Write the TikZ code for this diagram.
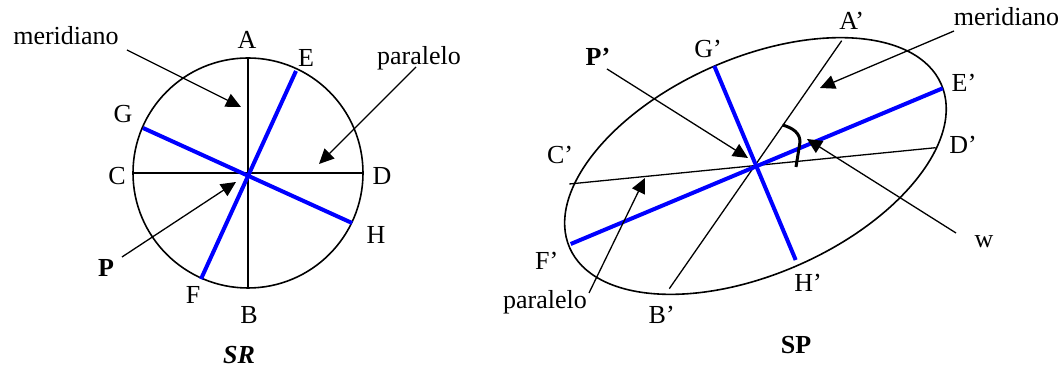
\documentclass[tikz,border=0pt]{standalone}
\usepackage{fontspec}
\setmainfont{Liberation Serif}
\usetikzlibrary{arrows.meta,positioning,calc}

\begin{document}
\begin{tikzpicture}[
    x=0.5pt, y=-0.5pt,
    lbl/.style={inner sep=0pt, anchor=base, font=\fontsize{13pt}{15pt}\selectfont},
    arrow/.style={-{Triangle[length=7.5pt, width=7pt]}, line width=0.65pt},
    axis/.style={line width=0.65pt},
    blueaxis/.style={draw=blue, line width=2pt},
    ring/.style={line width=0.8pt}
]
\useasboundingbox (0,0) rectangle (1062,367);

% Left sphere (SR)
\coordinate (O) at (248,173);
\coordinate (A) at (248,58);
\coordinate (B) at (248,288);
\coordinate (C) at (133,173);
\coordinate (D) at (363,173);
\coordinate (E) at (296,71);
\coordinate (F) at (201,279);
\coordinate (G) at (143,128);
\coordinate (H) at (352,223);

\draw[ring] (O) circle[radius=57.5pt];
\draw[axis] (A) -- (B);
\draw[axis] (C) -- (D);
\draw[blueaxis] (E) -- (F);
\draw[blueaxis] (G) -- (H);

\node[lbl] (labA) at (247,49) {A};
\node[lbl] (labE) at (306,66.7) {E};
\node[lbl] (labG) at (123,122.7) {G};
\node[lbl] (labC) at (117,185) {C};
\node[lbl] (labD) at (382,185) {D};
\node[lbl] (labH) at (376,243.3) {H};
\node[lbl] (labF) at (193,304) {F};
\node[lbl] (labB) at (249,323.3) {B};
\node[lbl, font=\fontsize{13pt}{15pt}\selectfont\bfseries] (labP) at (106,276.7) {P};
\node[lbl, font=\fontsize{13pt}{15pt}\selectfont\bfseries\itshape] (labSR) at (239,364) {SR};
\node[lbl] (merL) at (66,45) {meridiano};
\node[lbl] (parL) at (419,65) {paralelo};

% Arrows (left)
\coordinate (merLs) at (127,50);
\coordinate (merLe) at (241,107);
\coordinate (parLs) at (416,67);
\coordinate (parLe) at (319,164);
\coordinate (pLs) at (122,257);
\coordinate (pLe) at (236,182);
\draw[arrow] (merLs) -- (merLe);
\draw[arrow] (parLs) -- (parLe);
\draw[arrow] (pLs) -- (pLe);

% Right projection (SP)
\coordinate (O2) at (755.5,166);
\coordinate (A2) at (841.7,40.7);
\coordinate (B2) at (669.3,288.7);
\coordinate (C2) at (569.3,184);
\coordinate (D2) at (935.7,147.7);
\coordinate (E2) at (942.7,88.3);
\coordinate (F2) at (570.7,244);
\coordinate (G2) at (714.3,66);
\coordinate (H2) at (795.7,260);

\draw[ring, rotate around={23.8:(O2)}] (O2) ellipse[x radius=101.5pt, y radius=54pt];
\draw[axis] (A2) -- (B2);
\draw[axis] (C2) -- (D2);
\draw[blueaxis] (E2) -- (F2);
\draw[blueaxis] (G2) -- (H2);

% angle w
\coordinate (wa) at (782.5,125);
\coordinate (wb) at (796,167);
\draw[line width=1.5pt] (wa) .. controls (793,128) and (800,133) .. (800,142) -- (wb);

\node[lbl] (labA2) at (851.7,29.3) {A’};
\node[lbl] (labG2) at (708,57.3) {G’};
\node[lbl, font=\fontsize{13pt}{15pt}\selectfont\bfseries] (labP2) at (598,66) {P’};
\node[lbl] (labE2) at (964,91.7) {E’};
\node[lbl] (labD2) at (963,153.3) {D’};
\node[lbl] (labC2) at (560,163.3) {C’};
\node[lbl] (labF2) at (546.7,270) {F’};
\node[lbl] (labw) at (984,247.3) {w};
\node[lbl] (labH2) at (808,291.7) {H’};
\node[lbl] (labB2) at (661.7,323.3) {B’};
\node[lbl, font=\fontsize{13pt}{15pt}\selectfont\bfseries] (labSP) at (796,353.3) {SP};
\node[lbl] (merR) at (1006.5,26) {meridiano};
\node[lbl] (parR) at (545,308.3) {paralelo};

% Arrows (right)
\coordinate (pRs) at (607,69);
\coordinate (pRe) at (748,158);
\coordinate (merRs) at (954,31);
\coordinate (merRe) at (820,88);
\coordinate (parRs) at (589,293);
\coordinate (parRe) at (645,178);
\coordinate (wRs) at (956,233);
\coordinate (wRe) at (807,139);
\draw[arrow] (pRs) -- (pRe);
\draw[arrow] (merRs) -- (merRe);
\draw[arrow] (parRs) -- (parRe);
\draw[arrow] (wRs) -- (wRe);

\end{tikzpicture}
\end{document}
